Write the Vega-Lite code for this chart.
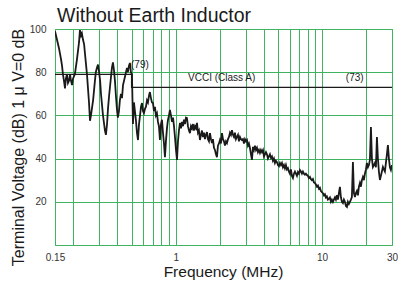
{
  "$schema": "https://vega.github.io/schema/vega-lite/v6.json",
  "width": 337,
  "height": 216,
  "autosize": {"type": "none"},
  "padding": {"left": 55, "top": 29, "right": 6, "bottom": 42},
  "background": "white",
  "config": {
    "font": "Liberation Sans",
    "view": {"stroke": "#3fb35f", "strokeWidth": 1}
  },
  "title": {
    "text": "Without Earth Inductor",
    "anchor": "start",
    "frame": "group",
    "fontSize": 19.5,
    "fontWeight": "normal",
    "color": "#1a1a1a",
    "font": "Liberation Sans",
    "baseline": "alphabetic",
    "offset": 10,
    "dx": 2,
    "dy": 27.5
  },
  "datasets": {
    "trace": [
      {"f": 0.15, "v": 99}, {"f": 0.1548, "v": 95}, {"f": 0.1598, "v": 91}, {"f": 0.1649, "v": 86}, {"f": 0.1675, "v": 83},
      {"f": 0.170, "v": 79}, {"f": 0.1728, "v": 76}, {"f": 0.1755, "v": 72.5}, {"f": 0.178, "v": 77}, {"f": 0.181, "v": 79},
      {"f": 0.184, "v": 75}, {"f": 0.187, "v": 76}, {"f": 0.190, "v": 79}, {"f": 0.193, "v": 76}, {"f": 0.196, "v": 74},
      {"f": 0.199, "v": 77}, {"f": 0.205, "v": 79}, {"f": 0.212, "v": 86}, {"f": 0.219, "v": 94}, {"f": 0.222, "v": 99.5},
      {"f": 0.226, "v": 97}, {"f": 0.229, "v": 98}, {"f": 0.233, "v": 95}, {"f": 0.237, "v": 93}, {"f": 0.240, "v": 89},
      {"f": 0.248, "v": 79}, {"f": 0.256, "v": 66}, {"f": 0.260, "v": 57.5}, {"f": 0.264, "v": 60}, {"f": 0.273, "v": 67},
      {"f": 0.281, "v": 76}, {"f": 0.285, "v": 80}, {"f": 0.290, "v": 82}, {"f": 0.295, "v": 83.5}, {"f": 0.300, "v": 80},
      {"f": 0.305, "v": 76}, {"f": 0.309, "v": 70}, {"f": 0.319, "v": 60}, {"f": 0.329, "v": 53}, {"f": 0.334, "v": 51},
      {"f": 0.340, "v": 56}, {"f": 0.345, "v": 63}, {"f": 0.351, "v": 69}, {"f": 0.362, "v": 78}, {"f": 0.367, "v": 82},
      {"f": 0.373, "v": 84.5}, {"f": 0.379, "v": 81}, {"f": 0.385, "v": 76}, {"f": 0.391, "v": 69}, {"f": 0.397, "v": 63},
      {"f": 0.403, "v": 59}, {"f": 0.410, "v": 62}, {"f": 0.416, "v": 67}, {"f": 0.423, "v": 70}, {"f": 0.430, "v": 68},
      {"f": 0.437, "v": 74}, {"f": 0.451, "v": 78}, {"f": 0.465, "v": 82}, {"f": 0.472, "v": 80}, {"f": 0.480, "v": 83},
      {"f": 0.487, "v": 84.3}, {"f": 0.495, "v": 80}, {"f": 0.503, "v": 79}, {"f": 0.511, "v": 56}, {"f": 0.519, "v": 66},
      {"f": 0.527, "v": 62}, {"f": 0.535, "v": 58}, {"f": 0.544, "v": 52}, {"f": 0.553, "v": 48.6}, {"f": 0.562, "v": 56},
      {"f": 0.571, "v": 60}, {"f": 0.580, "v": 64}, {"f": 0.589, "v": 65.7}, {"f": 0.598, "v": 62}, {"f": 0.607, "v": 61},
      {"f": 0.617, "v": 63}, {"f": 0.627, "v": 64}, {"f": 0.637, "v": 67}, {"f": 0.647, "v": 66}, {"f": 0.657, "v": 69},
      {"f": 0.667, "v": 70.8}, {"f": 0.678, "v": 68}, {"f": 0.689, "v": 66}, {"f": 0.700, "v": 65.7}, {"f": 0.711, "v": 62},
      {"f": 0.722, "v": 64}, {"f": 0.733, "v": 60}, {"f": 0.745, "v": 61}, {"f": 0.757, "v": 57}, {"f": 0.769, "v": 55},
      {"f": 0.781, "v": 48.6}, {"f": 0.794, "v": 56}, {"f": 0.806, "v": 58}, {"f": 0.819, "v": 52}, {"f": 0.832, "v": 47},
      {"f": 0.845, "v": 40.7}, {"f": 0.858, "v": 48}, {"f": 0.872, "v": 54}, {"f": 0.886, "v": 57.9}, {"f": 0.900, "v": 60},
      {"f": 0.914, "v": 62.5}, {"f": 0.929, "v": 60}, {"f": 0.944, "v": 57}, {"f": 0.959, "v": 59}, {"f": 0.974, "v": 55},
      {"f": 0.989, "v": 50}, {"f": 1.005, "v": 44}, {"f": 1.021, "v": 39.4}, {"f": 1.037, "v": 48}, {"f": 1.053, "v": 53},
      {"f": 1.070, "v": 56.5}, {"f": 1.087, "v": 54}, {"f": 1.104, "v": 57}, {"f": 1.122, "v": 55}, {"f": 1.140, "v": 58},
      {"f": 1.157, "v": 56}, {"f": 1.176, "v": 59}, {"f": 1.194, "v": 58.8}, {"f": 1.213, "v": 55}, {"f": 1.233, "v": 53},
      {"f": 1.252, "v": 51.8}, {"f": 1.272, "v": 55}, {"f": 1.292, "v": 54}, {"f": 1.312, "v": 56}, {"f": 1.333, "v": 53},
      {"f": 1.354, "v": 55}, {"f": 1.375, "v": 54}, {"f": 1.398, "v": 56.5}, {"f": 1.420, "v": 52}, {"f": 1.442, "v": 53},
      {"f": 1.465, "v": 48.6}, {"f": 1.488, "v": 51}, {"f": 1.512, "v": 53}, {"f": 1.536, "v": 50}, {"f": 1.560, "v": 52},
      {"f": 1.585, "v": 49}, {"f": 1.610, "v": 51}, {"f": 1.636, "v": 52.3}, {"f": 1.662, "v": 49}, {"f": 1.688, "v": 48},
      {"f": 1.715, "v": 51.8}, {"f": 1.742, "v": 49}, {"f": 1.770, "v": 47.2}, {"f": 1.797, "v": 49}, {"f": 1.826, "v": 45},
      {"f": 1.855, "v": 44}, {"f": 1.884, "v": 42}, {"f": 1.914, "v": 40.7}, {"f": 1.944, "v": 46}, {"f": 1.975, "v": 47},
      {"f": 2.007, "v": 48.6}, {"f": 2.039, "v": 47}, {"f": 2.071, "v": 51.8}, {"f": 2.104, "v": 49}, {"f": 2.137, "v": 48},
      {"f": 2.171, "v": 46}, {"f": 2.205, "v": 48}, {"f": 2.240, "v": 47.2}, {"f": 2.276, "v": 49}, {"f": 2.312, "v": 50},
      {"f": 2.349, "v": 52}, {"f": 2.386, "v": 51}, {"f": 2.424, "v": 53.2}, {"f": 2.462, "v": 51}, {"f": 2.501, "v": 50},
      {"f": 2.540, "v": 52}, {"f": 2.581, "v": 49}, {"f": 2.621, "v": 50}, {"f": 2.663, "v": 51}, {"f": 2.705, "v": 48},
      {"f": 2.748, "v": 50}, {"f": 2.791, "v": 49}, {"f": 2.835, "v": 48.6}, {"f": 2.880, "v": 49}, {"f": 2.926, "v": 47},
      {"f": 2.973, "v": 49}, {"f": 3.020, "v": 48}, {"f": 3.068, "v": 48.6}, {"f": 3.116, "v": 46}, {"f": 3.165, "v": 47},
      {"f": 3.215, "v": 45}, {"f": 3.267, "v": 42}, {"f": 3.318, "v": 39.4}, {"f": 3.371, "v": 45.4}, {"f": 3.424, "v": 44},
      {"f": 3.479, "v": 46}, {"f": 3.534, "v": 44}, {"f": 3.590, "v": 45}, {"f": 3.646, "v": 43}, {"f": 3.704, "v": 44},
      {"f": 3.763, "v": 42.6}, {"f": 3.822, "v": 44}, {"f": 3.883, "v": 43}, {"f": 3.945, "v": 44}, {"f": 4.007, "v": 41},
      {"f": 4.070, "v": 42}, {"f": 4.135, "v": 43}, {"f": 4.200, "v": 42}, {"f": 4.267, "v": 40}, {"f": 4.334, "v": 41},
      {"f": 4.403, "v": 42}, {"f": 4.473, "v": 40.3}, {"f": 4.544, "v": 41}, {"f": 4.615, "v": 39}, {"f": 4.689, "v": 40},
      {"f": 4.763, "v": 38}, {"f": 4.838, "v": 39}, {"f": 4.915, "v": 38.4}, {"f": 4.993, "v": 37}, {"f": 5.072, "v": 36.5},
      {"f": 5.152, "v": 38}, {"f": 5.234, "v": 37}, {"f": 5.317, "v": 38}, {"f": 5.401, "v": 36}, {"f": 5.486, "v": 37},
      {"f": 5.573, "v": 35.5}, {"f": 5.661, "v": 37}, {"f": 5.751, "v": 35}, {"f": 5.842, "v": 35.6}, {"f": 5.935, "v": 34},
      {"f": 6.029, "v": 33}, {"f": 6.124, "v": 35}, {"f": 6.221, "v": 32}, {"f": 6.320, "v": 31}, {"f": 6.420, "v": 33},
      {"f": 6.522, "v": 34}, {"f": 6.625, "v": 33}, {"f": 6.730, "v": 32}, {"f": 6.836, "v": 33.8}, {"f": 6.945, "v": 33},
      {"f": 7.054, "v": 34.7}, {"f": 7.166, "v": 34}, {"f": 7.280, "v": 33}, {"f": 7.395, "v": 34}, {"f": 7.512, "v": 33},
      {"f": 7.631, "v": 32.5}, {"f": 7.752, "v": 33}, {"f": 7.875, "v": 32.4}, {"f": 8.000, "v": 32}, {"f": 8.126, "v": 31},
      {"f": 8.255, "v": 31.5}, {"f": 8.385, "v": 30.5}, {"f": 8.518, "v": 30}, {"f": 8.653, "v": 30.5}, {"f": 8.790, "v": 29},
      {"f": 8.929, "v": 28.7}, {"f": 9.070, "v": 28}, {"f": 9.214, "v": 27}, {"f": 9.360, "v": 27.5}, {"f": 9.508, "v": 26},
      {"f": 9.658, "v": 26.5}, {"f": 9.811, "v": 25}, {"f": 9.966, "v": 24.5}, {"f": 10.13, "v": 24}, {"f": 10.29, "v": 23},
      {"f": 10.45, "v": 23.5}, {"f": 10.61, "v": 22}, {"f": 10.78, "v": 22.5}, {"f": 10.95, "v": 21}, {"f": 11.13, "v": 21.5},
      {"f": 11.30, "v": 22}, {"f": 11.48, "v": 20}, {"f": 11.66, "v": 21}, {"f": 11.85, "v": 19.9}, {"f": 12.03, "v": 21},
      {"f": 12.23, "v": 22}, {"f": 12.42, "v": 21}, {"f": 12.62, "v": 23}, {"f": 12.82, "v": 21}, {"f": 13.02, "v": 24},
      {"f": 13.23, "v": 26.9}, {"f": 13.44, "v": 22}, {"f": 13.65, "v": 20}, {"f": 13.87, "v": 19.4}, {"f": 14.09, "v": 21},
      {"f": 14.31, "v": 20}, {"f": 14.54, "v": 18}, {"f": 14.77, "v": 17.6}, {"f": 15.00, "v": 20}, {"f": 15.24, "v": 19},
      {"f": 15.48, "v": 20}, {"f": 15.73, "v": 21}, {"f": 15.97, "v": 22.2}, {"f": 16.23, "v": 38.4}, {"f": 16.49, "v": 24},
      {"f": 16.75, "v": 22.2}, {"f": 17.01, "v": 24}, {"f": 17.28, "v": 25}, {"f": 17.56, "v": 23}, {"f": 17.83, "v": 27},
      {"f": 18.12, "v": 28.7}, {"f": 18.40, "v": 27}, {"f": 18.69, "v": 30}, {"f": 18.99, "v": 31.5}, {"f": 19.29, "v": 30},
      {"f": 19.60, "v": 33}, {"f": 19.91, "v": 35}, {"f": 20.22, "v": 38}, {"f": 20.54, "v": 36}, {"f": 20.87, "v": 37},
      {"f": 21.20, "v": 39.4}, {"f": 21.54, "v": 54.6}, {"f": 21.88, "v": 40}, {"f": 22.22, "v": 36.1}, {"f": 22.58, "v": 37},
      {"f": 22.93, "v": 38}, {"f": 23.30, "v": 36}, {"f": 23.67, "v": 50}, {"f": 24.04, "v": 40}, {"f": 24.42, "v": 34},
      {"f": 24.81, "v": 30.1}, {"f": 25.20, "v": 32}, {"f": 25.60, "v": 34}, {"f": 26.01, "v": 36.1}, {"f": 26.42, "v": 35},
      {"f": 26.84, "v": 34}, {"f": 27.26, "v": 38}, {"f": 27.70, "v": 42}, {"f": 28.13, "v": 46.3}, {"f": 28.58, "v": 40},
      {"f": 29.03, "v": 36}, {"f": 29.49, "v": 34.7}, {"f": 30.0, "v": 37}
    ],
    "limit": [
      {"i": 0, "f": 0.15, "v": 79}, {"i": 1, "f": 0.5, "v": 79}, {"i": 2, "f": 0.5, "v": 73}, {"i": 3, "f": 30, "v": 73}
    ],
    "notes": [
      {"f": 0.57, "v": 83.3, "t": "(79)"},
      {"f": 2.06, "v": 77.3, "t": "VCCI (Class A)"},
      {"f": 16.7, "v": 77.3, "t": "(73)"}
    ]
  },
  "layer": [
    {
      "data": {"name": "trace"},
      "mark": {"type": "line", "color": "#1a1a1a", "strokeWidth": 1.8, "clip": true},
      "encoding": {
        "x": {
          "field": "f", "type": "quantitative",
          "scale": {"type": "log", "domain": [0.15, 30], "nice": false},
          "axis": {
            "values": [0.15, 0.2, 0.3, 0.4, 0.5, 0.6, 0.7, 0.8, 0.9, 1, 2, 3, 4, 5, 6, 7, 8, 9, 10, 20, 30],
            "labelExpr": "datum.value == 0.15 ? '0.15' : datum.value == 1 ? '1' : datum.value == 10 ? '10' : datum.value == 30 ? '30' : ''",
            "grid": true, "gridColor": "#3fb35f", "gridOpacity": 1, "gridWidth": 1,
            "domain": false, "ticks": false,
            "labelFont": "Liberation Sans", "labelFontSize": 10, "labelColor": "#333333",
            "labelPadding": 7, "labelOverlap": false, "labelBound": false, "labelFlush": false,
            "title": "Frequency (MHz)", "titleFont": "Liberation Sans", "titleFontSize": 15.5,
            "titleFontWeight": "normal", "titleColor": "#1a1a1a",
            "titleX": 168, "titleY": 31.5, "titleBaseline": "alphabetic", "titleAlign": "center", "titleAnchor": null
          }
        },
        "y": {
          "field": "v", "type": "quantitative",
          "scale": {"domain": [0, 100], "nice": false},
          "axis": {
            "values": [0, 10, 20, 30, 40, 50, 60, 70, 80, 90, 100],
            "labelExpr": "datum.value > 0 && datum.value % 20 == 0 ? datum.label : ''",
            "grid": true, "gridColor": "#3fb35f", "gridOpacity": 1, "gridWidth": 1,
            "domain": false, "ticks": false,
            "labelFont": "Liberation Sans", "labelFontSize": 10, "labelColor": "#333333",
            "labelPadding": 9, "labelOverlap": false,
            "title": "Terminal Voltage (dB) 1 μ V=0 dB", "titleFont": "Liberation Sans", "titleFontSize": 16,
            "titleFontWeight": "normal", "titleColor": "#1a1a1a",
            "titleX": -37, "titleY": 118, "titleBaseline": "middle", "titleAlign": "center", "titleAngle": -90
          }
        }
      }
    },
    {
      "data": {"name": "limit"},
      "mark": {"type": "line", "color": "#1a1a1a", "strokeWidth": 1.3},
      "encoding": {
        "x": {"field": "f", "type": "quantitative"},
        "y": {"field": "v", "type": "quantitative"},
        "order": {"field": "i", "type": "quantitative"}
      }
    },
    {
      "data": {"name": "notes"},
      "mark": {"type": "text", "font": "Liberation Sans", "fontSize": 10, "color": "#1a1a1a", "baseline": "middle", "align": "center"},
      "encoding": {
        "x": {"field": "f", "type": "quantitative"},
        "y": {"field": "v", "type": "quantitative"},
        "text": {"field": "t", "type": "nominal"}
      }
    }
  ]
}
